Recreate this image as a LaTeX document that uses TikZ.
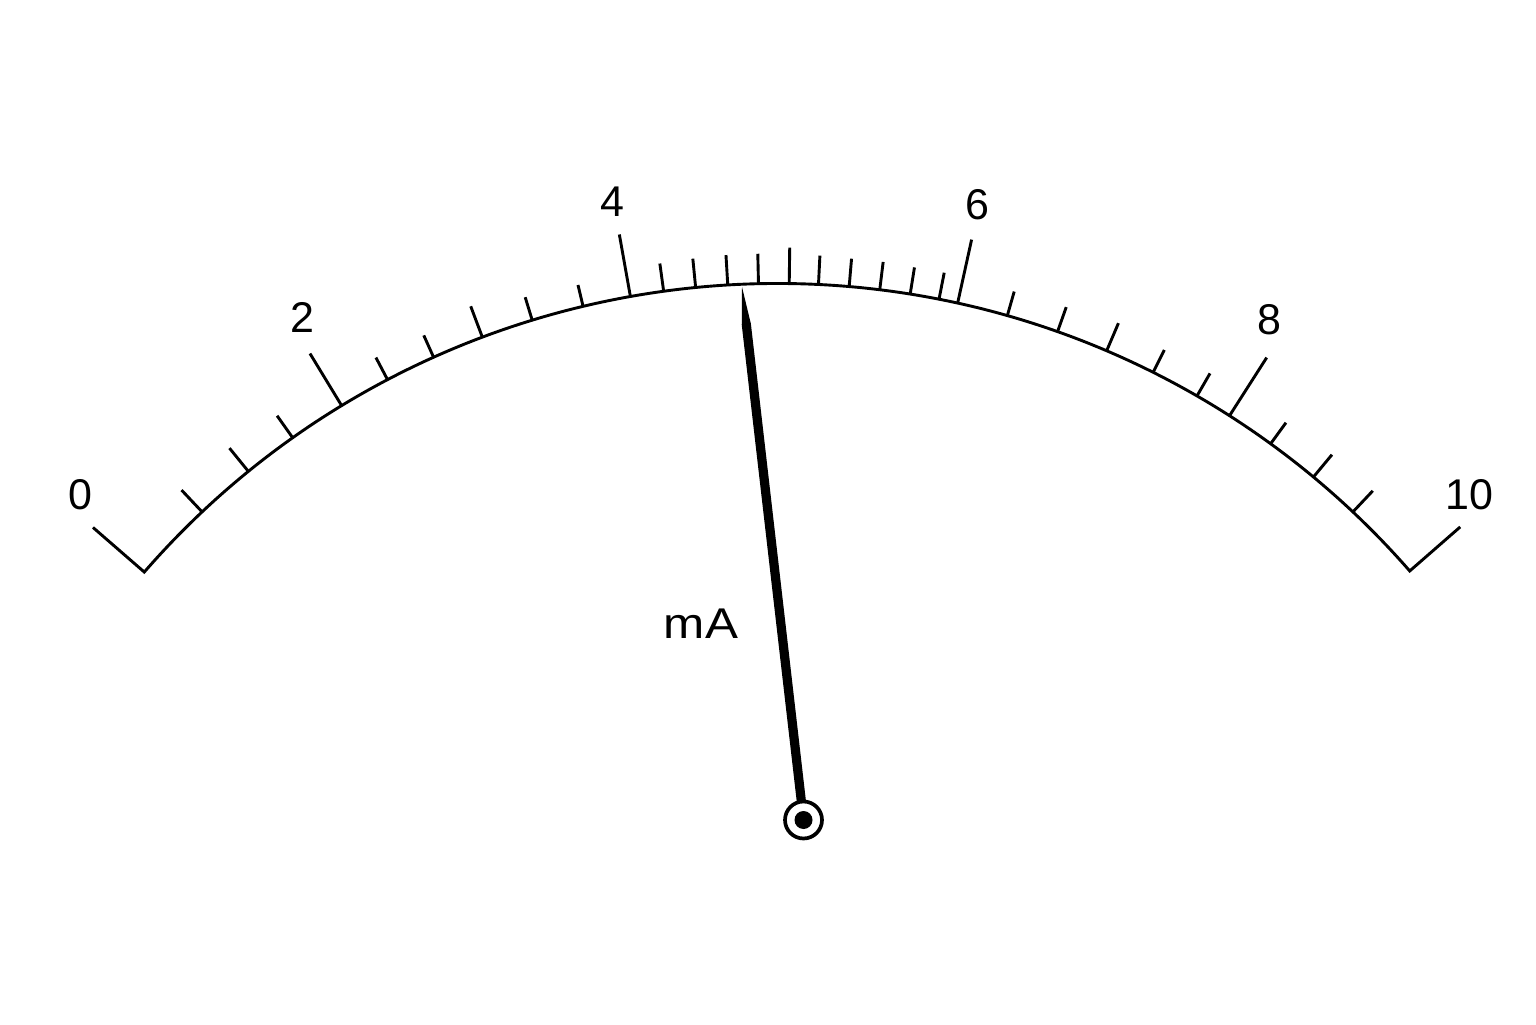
\documentclass[tikz,border=0pt]{standalone}
\usepackage{fontspec}
\setmainfont{Liberation Sans}
\usetikzlibrary{calc}
\begin{document}
\begin{tikzpicture}[x=0.5pt,y=0.5pt,
  scaleline/.style={line width=1.45pt, line join=miter, line cap=butt},
  numlabel/.style={font=\fontsize{21.5}{24}\selectfont, inner sep=0pt, anchor=base},
  pivotring/.style={circle, draw, line width=1.85pt, fill=white, minimum size=18.5pt, inner sep=0pt},
]
\fill[white] (0,0) rectangle (1536,1024);
\useasboundingbox (0,0) rectangle (1536,1024);
\coordinate (C) at (777.5,-98.5);
% scale arc with end ticks (0 and 10)
\draw[scaleline] ($(C)+(139:907)$) -- ($(C)+(139:839)$)
  arc[start angle=139, end angle=41.1, radius=839] -- ($(C)+(41.1:906)$);
% minor and medium ticks
\foreach \a/\l in {133.3/30,129.1/30,125.3/27,117.7/25,114.2/24,110.6/33,107.0/24,103.4/22,
  97.8/28,95.6/29,93.4/30,91.3/30,89.2/36,87.2/29,85.1/28,83.0/28,80.9/27,78.9/27,
  74.1/25,70.5/26,66.9/30,63.4/25,60.0/26,54.0/26,50.3/29,46.7/29}
  \draw[scaleline] ($(C)+(\a:839)$) -- ($(C)+(\a:839+\l)$);
% major ticks
\foreach \a/\l in {121.3/61,100.1/63,77.6/65,57.4/69}
  \draw[scaleline] ($(C)+(\a:839)$) -- ($(C)+(\a:839+\l)$);
% labels
\node[numlabel] (l0) at (80.8,514) {0};
\node[numlabel] (l2) at (302.5,691) {2};
\node[numlabel] (l4) at (612,807.3) {4};
\node[numlabel] (l6) at (977.5,804.7) {6};
\node[numlabel] (l8) at (1269,689) {8};
\node[numlabel] (l10) at (1469,514) {10};
\node[numlabel] (unit) at (701,386) {\scalebox{1.15}[1]{mA}};
% needle
\coordinate (T) at (742,737);
\coordinate (P) at (803.5,204);
\coordinate (Q) at ($(T)!0.07!(P)$);
\fill[black] (T) -- ($(Q)!2.3pt!90:(P)$) -- ($(P)!2.3pt!-90:(T)$) -- ($(P)!2.3pt!90:(T)$) -- ($(Q)!2.3pt!-90:(P)$) -- cycle;
% pivot
\node[pivotring] (pivot) at (P) {};
\fill[black] (pivot.center) circle[radius=9];
\end{tikzpicture}
\end{document}
